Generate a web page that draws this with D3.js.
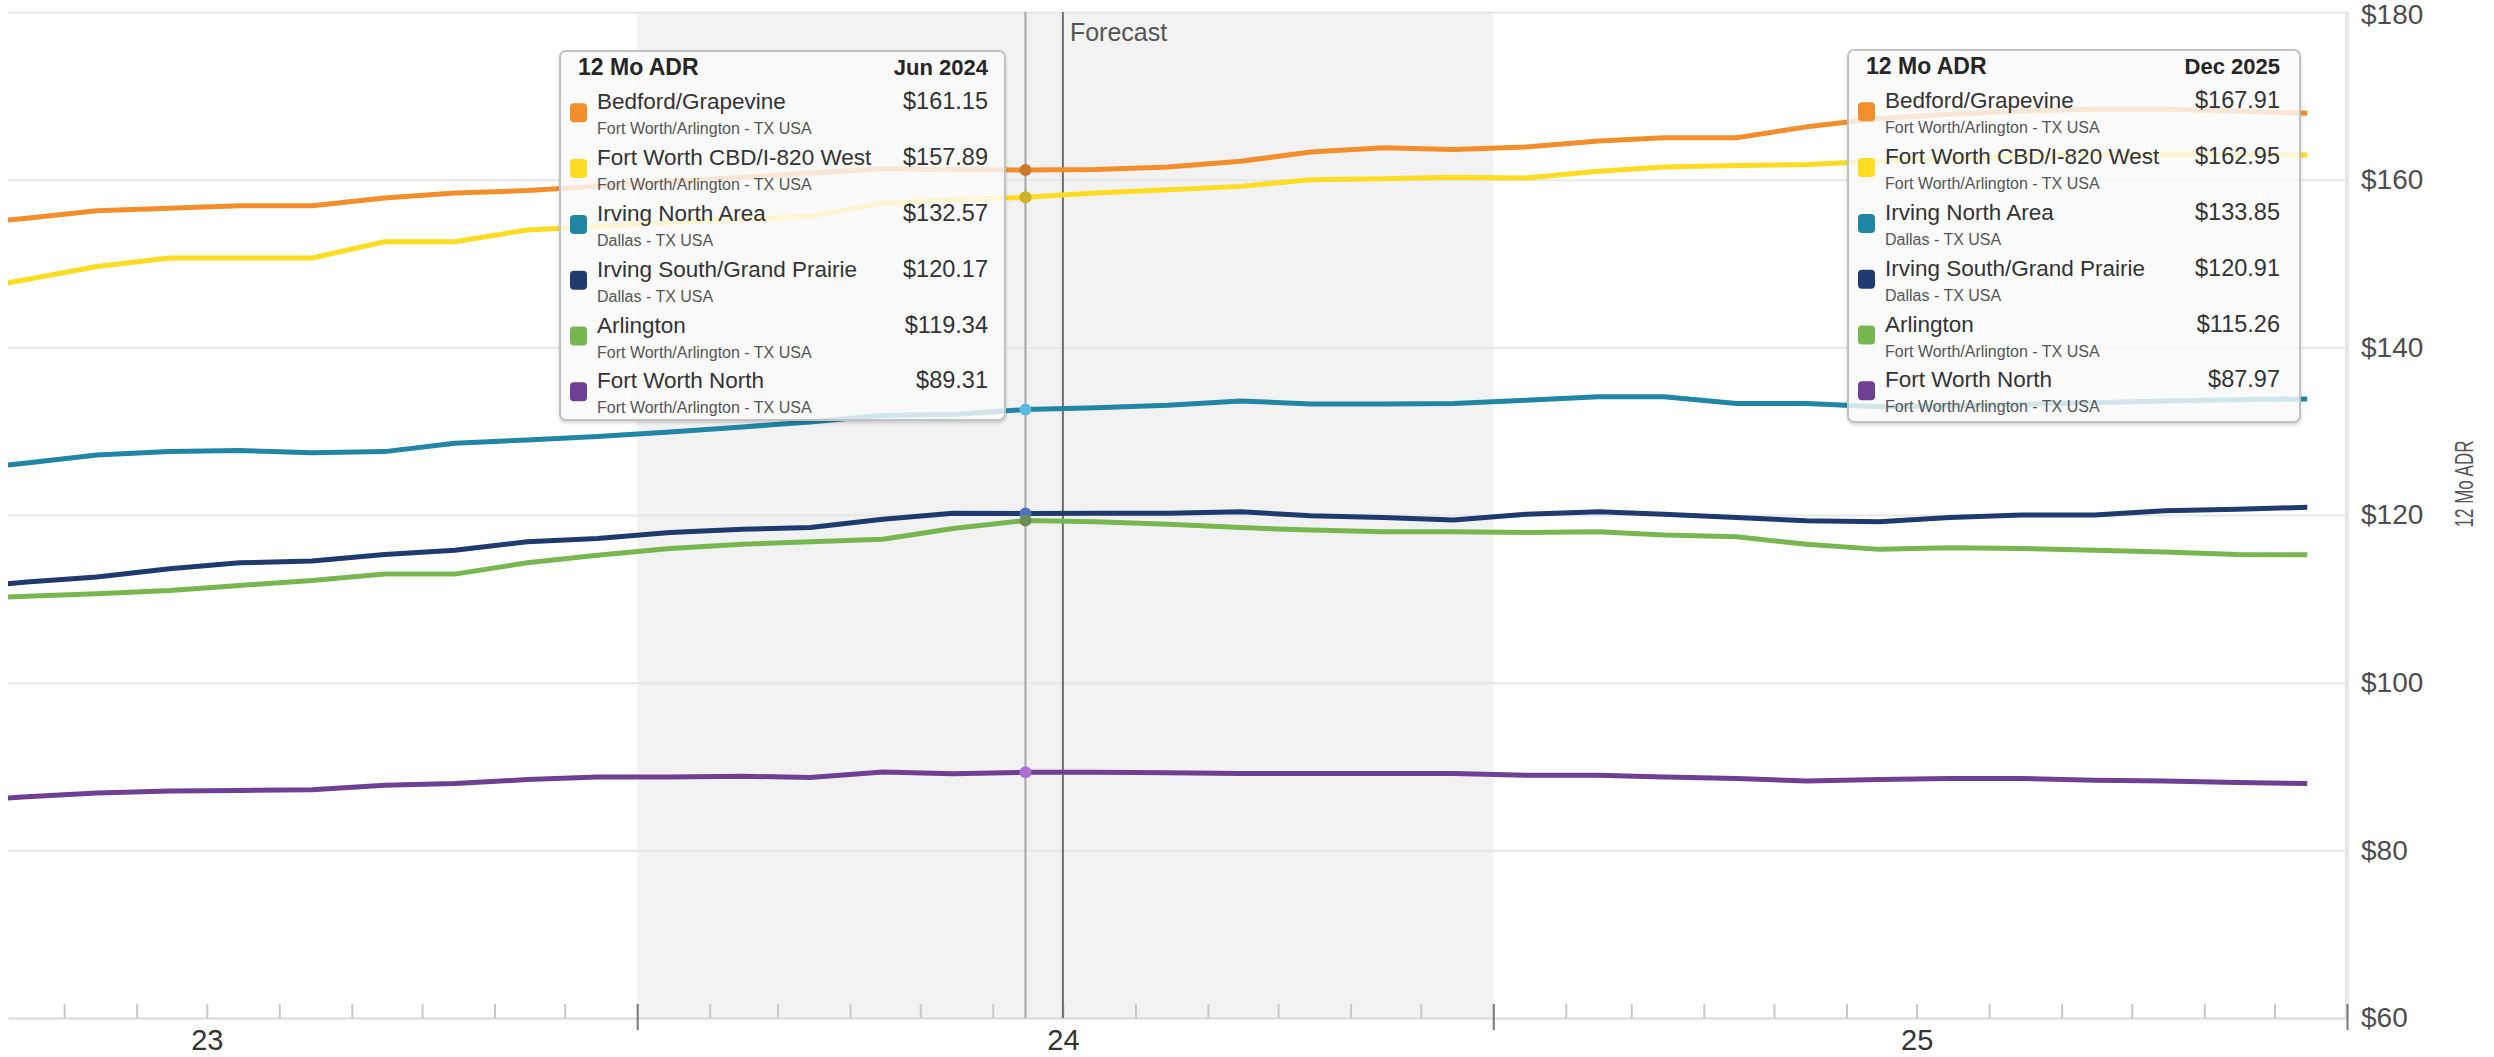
<!DOCTYPE html>
<html>
<head>
<meta charset="utf-8">
<script src="https://cdn.jsdelivr.net/npm/d3@7"></script>
<style>
  html, body { margin: 0; padding: 0; background: #fff; }
  svg { display: block; font-family: "Liberation Sans", Arial, Helvetica, sans-serif; }
</style>
</head>
<body>
<svg id="chart" width="2494" height="1057"></svg>
<script>
// ---- data -------------------------------------------------------------
const months = [
  "2023-03","2023-04","2023-05","2023-06","2023-07","2023-08","2023-09","2023-10","2023-11","2023-12",
  "2024-01","2024-02","2024-03","2024-04","2024-05","2024-06","2024-07","2024-08","2024-09","2024-10","2024-11","2024-12",
  "2025-01","2025-02","2025-03","2025-04","2025-05","2025-06","2025-07","2025-08","2025-09","2025-10","2025-11","2025-12"
];

const seriesNames = [
  "Bedford/Grapevine",
  "Fort Worth CBD/I-820 West",
  "Irving North Area",
  "Irving South/Grand Prairie",
  "Arlington",
  "Fort Worth North"
];
const seriesRegions = [
  "Fort Worth/Arlington - TX USA",
  "Fort Worth/Arlington - TX USA",
  "Dallas - TX USA",
  "Dallas - TX USA",
  "Fort Worth/Arlington - TX USA",
  "Fort Worth/Arlington - TX USA"
];
const seriesColors = ["#f28e2b", "#fddc22", "#2186a5", "#1f3a6f", "#78b750", "#6f3f93"];
const markerColors = ["#c9782c", "#cdb224", "#5bb9e0", "#4b73c2", "#6b8c54", "#ad6fd6"];

const bedfordGrapevine = [154.6, 155.4, 156.3, 156.6, 156.9, 156.9, 157.8, 158.4, 158.7, 159.2,
  159.75, 160.3, 160.8, 161.3, 161.2, 161.15, 161.2, 161.5, 162.2, 163.3, 163.8, 163.6,
  163.9, 164.6, 165.0, 165.0, 166.3, 167.3, 167.8, 168.2, 168.4, 168.4, 168.2, 167.91];
const fortWorthCbd = [146.5, 148.1, 149.65, 150.65, 150.65, 150.65, 152.6, 152.6, 154.0, 154.4,
  154.9, 155.3, 155.6, 157.2, 157.6, 157.89, 158.4, 158.8, 159.2, 160.0, 160.1, 160.3,
  160.2, 161.0, 161.5, 161.7, 161.8, 162.2, 162.5, 162.8, 163.0, 163.0, 163.0, 162.95];
const irvingNorth = [125.25, 126.2, 127.16, 127.56, 127.7, 127.44, 127.56, 128.55, 128.95, 129.35,
  129.9, 130.5, 131.1, 131.9, 132.0, 132.57, 132.8, 133.1, 133.6, 133.25, 133.25, 133.3,
  133.7, 134.1, 134.1, 133.3, 133.3, 132.9, 133.0, 133.2, 133.4, 133.6, 133.75, 133.85];
const irvingSouth = [111.26, 112.0, 112.6, 113.6, 114.3, 114.5, 115.3, 115.8, 116.8, 117.2,
  117.9, 118.3, 118.5, 119.5, 120.2, 120.17, 120.2, 120.2, 120.4, 119.9, 119.7, 119.4,
  120.1, 120.4, 120.1, 119.7, 119.3, 119.2, 119.7, 120.0, 120.0, 120.5, 120.7, 120.91];
const arlington = [110.0, 110.3, 110.6, 111.0, 111.6, 112.2, 112.95, 112.95, 114.3, 115.2,
  116.0, 116.5, 116.8, 117.1, 118.4, 119.34, 119.2, 118.9, 118.5, 118.2, 118.0, 118.0,
  117.9, 118.0, 117.6, 117.4, 116.5, 115.9, 116.1, 116.0, 115.8, 115.6, 115.3, 115.26];
const fortWorthNorth = [85.8, 86.4, 86.84, 87.08, 87.15, 87.24, 87.76, 87.96, 88.44, 88.76,
  88.76, 88.84, 88.68, 89.35, 89.15, 89.31, 89.3, 89.25, 89.17, 89.17, 89.17, 89.17,
  88.96, 88.96, 88.76, 88.56, 88.28, 88.44, 88.56, 88.56, 88.36, 88.28, 88.08, 87.97];

const seriesValues = [bedfordGrapevine, fortWorthCbd, irvingNorth, irvingSouth, arlington, fortWorthNorth];

const yTicks = [60, 80, 100, 120, 140, 160, 180];
const yTitle = "12 Mo ADR";
const forecastLabel = "Forecast";
const forecastStart = "2024-07";
const shadedYear = "2024";
const hoverMonth = "2024-06";
const tooltipMonths = ["2024-06", "2025-12"];
const tooltipDateLabels = ["Jun 2024", "Dec 2025"];

// ---- layout -----------------------------------------------------------
const plot = { left: 8, right: 2347, top: 12, bottom: 1018 };
const parseMonth = s => { const [yy, mm] = s.split("-").map(Number); return new Date(Date.UTC(yy, mm - 1, 15)); };
const monthStart = s => { const [yy, mm] = s.split("-").map(Number); return new Date(Date.UTC(yy, mm - 1, 1)); };

const x = d3.scaleUtc()
  .domain([new Date(Date.UTC(2023, 3, 7)), new Date(Date.UTC(2026, 0, 1))])
  .range([plot.left, plot.right]);
const y = d3.scaleLinear().domain([60, 180]).range([plot.bottom, plot.top]);

const svg = d3.select("#chart");

const defs = svg.append("defs");
defs.append("clipPath").attr("id", "plot-clip")
  .append("rect")
  .attr("x", plot.left).attr("y", 0)
  .attr("width", plot.right - plot.left).attr("height", plot.bottom);
const shadow = defs.append("filter").attr("id", "tip-shadow")
  .attr("x", "-5%").attr("y", "-5%").attr("width", "110%").attr("height", "110%");
shadow.append("feDropShadow").attr("dx", 0).attr("dy", 2).attr("stdDeviation", 1.5)
  .attr("flood-color", "#000").attr("flood-opacity", 0.18);

// shaded current year
const yr = +shadedYear;
svg.append("rect")
  .attr("x", x(new Date(Date.UTC(yr, 0, 1))))
  .attr("y", plot.top)
  .attr("width", x(new Date(Date.UTC(yr + 1, 0, 1))) - x(new Date(Date.UTC(yr, 0, 1))))
  .attr("height", plot.bottom - plot.top)
  .attr("fill", "#f2f2f2");

// horizontal gridlines
const grid = svg.append("g")
  .attr("transform", `translate(${plot.left},0)`)
  .call(d3.axisRight(y).tickValues(yTicks.filter(v => v > 60))
    .tickSize(plot.right - plot.left).tickFormat(""));
grid.select(".domain").remove();
grid.selectAll("line").attr("stroke", "#e7e7e7").attr("stroke-width", 2);

// right axis bar
svg.append("line")
  .attr("x1", plot.right).attr("x2", plot.right)
  .attr("y1", plot.top).attr("y2", plot.bottom)
  .attr("stroke", "#e6e6e6").attr("stroke-width", 4);

// y labels
const yAxis = svg.append("g")
  .attr("transform", `translate(${plot.right},0)`)
  .call(d3.axisRight(y).tickValues(yTicks).tickSize(0).tickPadding(14).tickFormat(d => "$" + d));
yAxis.select(".domain").remove();
yAxis.selectAll("text")
  .attr("font-size", 28).attr("fill", "#4d4d4d")
  .attr("font-family", "'Liberation Sans', Arial, sans-serif")
  .attr("dy", d => d === d3.max(yTicks) ? "0.42em" : "0.32em");

svg.append("text")
  .attr("transform", `translate(2473,484) rotate(-90) scale(0.68,1)`)
  .attr("text-anchor", "middle")
  .attr("font-size", 25)
  .attr("fill", "#555")
  .text(yTitle);

// x axis: minor month ticks
const tStart = x.domain()[0], tEnd = x.domain()[1];
const minor = svg.append("g")
  .attr("transform", `translate(0,${plot.bottom})`)
  .call(d3.axisBottom(x)
    .tickValues(d3.utcMonth.range(tStart, tEnd).filter(d => d.getUTCMonth() !== 0))
    .tickSizeInner(-14).tickSizeOuter(0).tickFormat(""));
minor.select(".domain").attr("stroke", "#d9d9d9").attr("stroke-width", 2);
minor.selectAll(".tick line").attr("stroke", "#c8c8c8").attr("stroke-width", 2);

// x axis: year boundaries
const major = svg.append("g")
  .attr("transform", `translate(0,${plot.bottom})`)
  .call(d3.axisBottom(x)
    .tickValues(d3.utcYear.range(d3.utcYear.ceil(tStart), d3.utcDay.offset(tEnd, 1)))
    .tickSize(12).tickFormat(""));
major.select(".domain").remove();
major.selectAll(".tick line").attr("y1", -14).attr("stroke", "#777").attr("stroke-width", 2);

// x axis: year labels at mid-year
const labels = svg.append("g")
  .attr("transform", `translate(0,${plot.bottom})`)
  .call(d3.axisBottom(x)
    .tickValues(d3.utcYear.range(d3.utcYear.floor(tStart), tEnd).map(d => d3.utcMonth.offset(d, 6)))
    .tickSize(0).tickFormat(d3.utcFormat("%y")));
labels.select(".domain").remove();
labels.selectAll("text")
  .attr("y", 32).attr("dy", 0)
  .attr("font-size", 29).attr("fill", "#333")
  .attr("font-family", "'Liberation Sans', Arial, sans-serif");

// hover and forecast markers
const hoverX = x(parseMonth(hoverMonth));
svg.append("line")
  .attr("x1", hoverX).attr("x2", hoverX)
  .attr("y1", plot.top).attr("y2", plot.bottom)
  .attr("stroke", "#a6a6a6").attr("stroke-width", 2);
const fx = x(monthStart(forecastStart));
svg.append("line")
  .attr("x1", fx).attr("x2", fx)
  .attr("y1", plot.top).attr("y2", plot.bottom)
  .attr("stroke", "#6e6e6e").attr("stroke-width", 2);
svg.append("text")
  .attr("x", fx + 7).attr("y", 41)
  .attr("font-size", 25).attr("fill", "#555")
  .text(forecastLabel);

// series lines
const line = d3.line()
  .x((d, i) => x(parseMonth(months[i])))
  .y(d => y(d));
const lines = svg.append("g").attr("clip-path", "url(#plot-clip)");
seriesValues.forEach((vals, i) => {
  lines.append("path")
    .attr("d", line(vals))
    .attr("fill", "none")
    .attr("stroke", seriesColors[i])
    .attr("stroke-width", 5)
    .attr("stroke-linejoin", "round");
});

// hover dots
const hi = months.indexOf(hoverMonth);
svg.append("g").selectAll("circle")
  .data(seriesValues)
  .join("circle")
  .attr("cx", hoverX)
  .attr("cy", d => y(d[hi]))
  .attr("r", 6)
  .attr("fill", (d, i) => markerColors[i]);

// tooltips
const fmt = d3.format("$.2f");
function drawTooltip(box, month, dateLabel) {
  const idx = months.indexOf(month);
  const g = svg.append("g").attr("transform", `translate(${box.x},${box.y})`);
  g.append("rect")
    .attr("width", box.w).attr("height", box.h)
    .attr("rx", 6)
    .attr("fill", "#fff").attr("fill-opacity", 0.78)
    .attr("stroke", "#c2c2c2").attr("stroke-width", 2)
    .attr("filter", "url(#tip-shadow)");
  g.append("text")
    .attr("x", 18).attr("y", 24)
    .attr("font-size", 23).attr("font-weight", "bold").attr("fill", "#262626")
    .text(yTitle);
  g.append("text")
    .attr("x", box.w - box.pad).attr("y", 24)
    .attr("text-anchor", "end")
    .attr("font-size", 22).attr("font-weight", "bold").attr("fill", "#262626")
    .text(dateLabel);
  seriesNames.forEach((name, i) => {
    const by = 58.3 + 55.8 * i;
    g.append("rect")
      .attr("x", 10).attr("y", by - 6)
      .attr("width", 17).attr("height", 19).attr("rx", 4)
      .attr("fill", seriesColors[i]);
    g.append("text")
      .attr("x", 37).attr("y", by)
      .attr("font-size", 22.5).attr("fill", "#333")
      .text(name);
    g.append("text")
      .attr("x", box.w - box.pad).attr("y", by)
      .attr("text-anchor", "end")
      .attr("font-size", 23.5).attr("fill", "#333")
      .text(fmt(seriesValues[i][idx]));
    g.append("text")
      .attr("x", 37).attr("y", by + 25)
      .attr("font-size", 16).attr("fill", "#555")
      .text(seriesRegions[i]);
  });
}
drawTooltip({ x: 560, y: 51, w: 445, h: 369, pad: 17 }, tooltipMonths[0], tooltipDateLabels[0]);
drawTooltip({ x: 1848, y: 50, w: 452, h: 372, pad: 20 }, tooltipMonths[1], tooltipDateLabels[1]);
</script>
</body>
</html>
